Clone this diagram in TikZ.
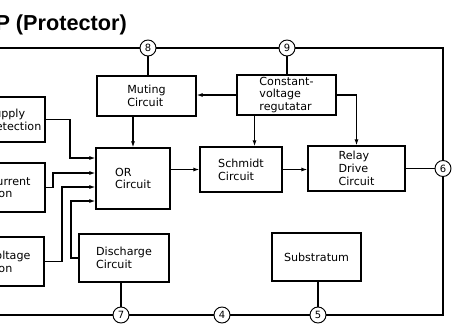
\documentclass[tikz,border=0pt]{standalone}
\usepackage{fontspec}
\newfontfamily\cajafont{DejaVu Sans}
\newfontfamily\titulofont{Liberation Sans}
\usetikzlibrary{arrows.meta}

\begin{document}
\begin{tikzpicture}[x=0.03cm, y=-0.03cm,
    caja/.style={draw, line width=1.3pt, inner sep=0pt, align=left,
      font=\cajafont\fontsize{9.5}{11}\selectfont},
    terminal/.style={draw, circle, line width=0.8pt, inner sep=0pt,
      minimum size=16*0.03cm, font=\cajafont\fontsize{8.5}{9}\selectfont},
    cable/.style={line width=1pt},
    flecha/.style={cable, -{Latex[length=5pt,width=3.5pt]}}]
    % Marco de la figura (470 x 330)
    \useasboundingbox (0,0) rectangle (470,330);
    \def\px{0.03cm}

    % Titulo
    \node[anchor=base east, inner sep=0pt,
      font=\titulofont\bfseries\fontsize{18.5}{20}\selectfont] (titulo) at (127,30) {P (Protector)};

    % Terminales del integrado
    \node[terminal] (c8) at (148,48) {8};
    \node[terminal] (c9) at (287,48) {9};
    \node[terminal] (c6) at (443,168.5) {6};
    \node[terminal] (c7) at (121,315) {7};
    \node[terminal] (c4) at (222,315) {4};
    \node[terminal] (c5) at (318,315) {5};

    % Bloques internos
    \node[caja, minimum width=99*\px, minimum height=40*\px] (muting) at (146.5,96) {Muting\\Circuit};
    \node[caja, minimum width=99*\px, minimum height=40*\px] (regul) at (286.5,95) {Constant-\\voltage\\regutatar};
    \node[caja, minimum width=74*\px, minimum height=61*\px] (orc) at (133,178.5) {OR\\Circuit};
    \node[caja, minimum width=82*\px, minimum height=45*\px] (schmidt) at (241,169.5) {Schmidt\\Circuit};
    \node[caja, minimum width=97*\px, minimum height=45*\px] (relay) at (356.5,168.5) {Relay\\Drive\\Circuit};
    \node[caja, minimum width=90*\px, minimum height=48*\px] (descarga) at (124,258) {Discharge\\Circuit};
    \node[caja, minimum width=89*\px, minimum height=48*\px] (sustrato) at (316.5,257) {Substratum};

    % Bloques de deteccion (cortados por el borde izquierdo)
    \node[caja, anchor=east, text width=56*\px, inner xsep=2*\px, minimum height=45*\px] (supply) at (46,119.5) {Supply\\Detection};
    \node[caja, anchor=east, text width=85*\px, inner xsep=2*\px, minimum height=49*\px] (over) at (46,187.5) {Over Current\\Detection};
    \node[caja, anchor=east, text width=84*\px, inner xsep=2*\px, minimum height=49*\px] (volt) at (45,261.5) {Over Voltage\\Detection};

    % Linea exterior que une los terminales
    \coordinate (izqsup) at (0,48);
    \coordinate (esqsup) at (443,48);
    \coordinate (esqinf) at (443,315);
    \coordinate (izqinf) at (0,315);
    \draw[cable, line width=1.2pt] (izqsup) -- (c8) -- (c9) -- (esqsup) -- (c6) -- (esqinf) -- (c5) -- (c4) -- (c7) -- (izqinf);

    % Terminales hacia los bloques
    \draw[cable] (c8) -- (c8 |- muting.north);
    \draw[cable] (c9) -- (c9 |- regul.north);
    \draw[cable] (c7) -- (c7 |- descarga.south);
    \draw[cable] (c5) -- (c5 |- sustrato.south);
    \draw[cable] (relay.east) -- (c6);

    % Conexiones del regulador
    \draw[flecha] (regul.west) -- (regul.west -| muting.east);
    \draw[flecha] (regul.213) -- (regul.213 |- schmidt.north);
    \draw[flecha] (regul.east) -| (relay.north);

    % Cadena principal
    \draw[flecha] (orc.north |- muting.south) -- (orc.north);
    \draw[flecha] (orc.east |- schmidt.west) -- (schmidt.west);
    \draw[flecha] (schmidt.east) -- (schmidt.east -| relay.west);

    % Entradas de la puerta OR
    \coordinate (b1) at (70,158);
    \coordinate (b2) at (53,173);
    \coordinate (b3) at (62,187);
    \coordinate (b4) at (71,201);
    \draw[flecha] (supply.east) -| (b1) -- (b1 -| orc.west);
    \draw[flecha] (over.east) -| (b2) -- (b2 -| orc.west);
    \draw[flecha] (volt.east) -| (b3) -- (b3 -| orc.west);
    \draw[flecha] (descarga.west) -| (b4) -- (b4 -| orc.west);
\end{tikzpicture}
\end{document}
